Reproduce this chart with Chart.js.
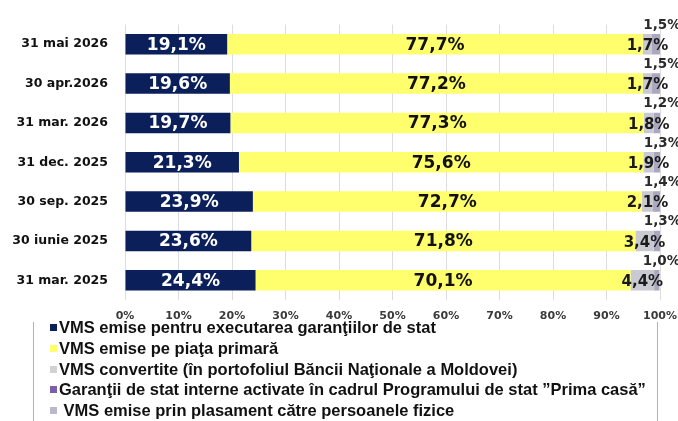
<!DOCTYPE html>
<html>
<head>
<meta charset="utf-8">
<script src="https://cdn.jsdelivr.net/npm/chart.js@4.4.1/dist/chart.umd.min.js"></script>
<style>
  html, body { margin: 0; padding: 0; background: #fff; }
  #wrap { position: relative; width: 678px; height: 421px; overflow: hidden; }
  #chart { position: absolute; left: 0; top: 0; }
  #legend { position: absolute; left: 50px; top: 317px; font-family: "Liberation Sans", Arial, sans-serif; font-weight: bold; font-size: 16.5px; color: #111; }
  .li { height: 20.8px; line-height: 20.8px; white-space: nowrap; }
  .sw { display: inline-block; width: 7px; height: 7px; margin-right: 2px; vertical-align: 2px; }
  .frame { position: absolute; top: 322px; width: 1px; height: 99px; background: #a8b2c2; }
</style>
</head>
<body>
<div id="wrap">
  <canvas id="chart" width="678" height="330"></canvas>
  <div id="legend"></div>
  <div class="frame" style="left:33px"></div>
  <div class="frame" style="left:657px"></div>
</div>
<script>
// ── Data ──
const categories = ['31 mai 2026', '30 apr.2026', '31 mar. 2026', '31 dec. 2025', '30 sep. 2025', '30 iunie 2025', '31 mar. 2025'];
const garantii   = [19.1, 19.6, 19.7, 21.3, 23.9, 23.6, 24.4];
const piataPrim  = [77.7, 77.2, 77.3, 75.6, 72.7, 71.8, 70.1];
const convertite = [1.7, 1.7, 1.8, 1.9, 2.1, 3.4, 4.4];
const primaCasa  = [0, 0, 0, 0, 0, 0, 0];
const plasament  = [1.5, 1.5, 1.2, 1.3, 1.4, 1.3, 1.0];
const xTicks = [0, 10, 20, 30, 40, 50, 60, 70, 80, 90, 100];

const seriesNames = [
  'VMS emise pentru executarea garanţiilor de stat',
  'VMS emise pe piaţa primară',
  'VMS convertite (în portofoliul Băncii Naţionale a Moldovei)',
  'Garanţii de stat interne activate în cadrul Programului de stat ”Prima casă”',
  ' VMS emise prin plasament către persoanele fizice'
];
const seriesColors = ['#0b1f5a', '#ffff6e', '#c9c9d1', '#7b5ea7', '#aba7bf'];
const legendColors = ['#0b1f5a', '#ffff6e', '#d2d2d2', '#7b5ea7', '#bcb8cc'];

const fmt = v => v.toFixed(1).replace('.', ',') + '%';
const FONT = '"DejaVu Sans"';

// ── Value labels ──
const labelPlugin = {
  id: 'valueLabels',
  afterDatasetsDraw(chart) {
    const ctx = chart.ctx;
    ctx.save();
    ctx.textBaseline = 'middle';
    ctx.textAlign = 'center';
    chart.data.datasets.forEach((ds, di) => {
      const meta = chart.getDatasetMeta(di);
      meta.data.forEach((bar, i) => {
        const v = ds.data[i];
        if (!v) return;
        const cx = (bar.x + bar.base) / 2;
        if (di === 0) {
          ctx.font = `bold 17px ${FONT}`;
          ctx.fillStyle = '#ffffff';
          ctx.fillText(fmt(v), cx, bar.y + 1);
        } else if (di === 1) {
          ctx.font = `bold 17px ${FONT}`;
          ctx.fillStyle = '#111111';
          ctx.fillText(fmt(v), cx, bar.y + 1);
        } else if (di === 2) {
          ctx.font = `bold 15px ${FONT}`;
          ctx.fillStyle = '#1a1a1a';
          ctx.fillText(fmt(v), cx, bar.y + 2);
        } else if (di === 4) {
          ctx.font = `bold 13.5px ${FONT}`;
          ctx.fillStyle = '#2a2a2a';
          ctx.fillText(fmt(v), bar.x + 2, bar.y - 19);
        }
      });
    });
    ctx.restore();
  }
};

const values = [garantii, piataPrim, convertite, primaCasa, plasament];

new Chart(document.getElementById('chart'), {
  type: 'bar',
  data: {
    labels: categories,
    datasets: values.map((d, i) => ({
      label: seriesNames[i],
      data: d,
      backgroundColor: seriesColors[i],
      borderWidth: 0,
      barPercentage: 0.52,
      categoryPercentage: 1
    }))
  },
  options: {
    indexAxis: 'y',
    responsive: false,
    animation: false,
    layout: { padding: { top: 20, right: 18, left: 0, bottom: 0 } },
    plugins: { legend: { display: false }, tooltip: { enabled: false } },
    scales: {
      x: {
        stacked: true, min: 0, max: 100,
        afterBuildTicks: s => { s.ticks = xTicks.map(v => ({ value: v })); },
        afterFit: s => { s.height = 30; s.paddingLeft = 0; s.paddingRight = 0; },
        grid: { color: '#dcdcdc', drawTicks: false },
        border: { display: false },
        ticks: { padding: 10, color: '#3a3a3a', font: { family: 'DejaVu Sans', size: 11, weight: 'bold' }, callback: v => v + '%' }
      },
      y: {
        stacked: true,
        afterFit: s => { s.width = 125; },
        grid: { display: false, drawTicks: false },
        border: { display: false },
        ticks: { padding: 17, color: '#111', font: { family: 'DejaVu Sans', size: 12.5, weight: 'bold' } }
      }
    }
  },
  plugins: [labelPlugin]
});

// ── Legend ──
document.getElementById('legend').innerHTML = seriesNames.map((n, i) =>
  `<div class="li"><span class="sw" style="background:${legendColors[i]}"></span>${n}</div>`
).join('');
</script>
</body>
</html>
